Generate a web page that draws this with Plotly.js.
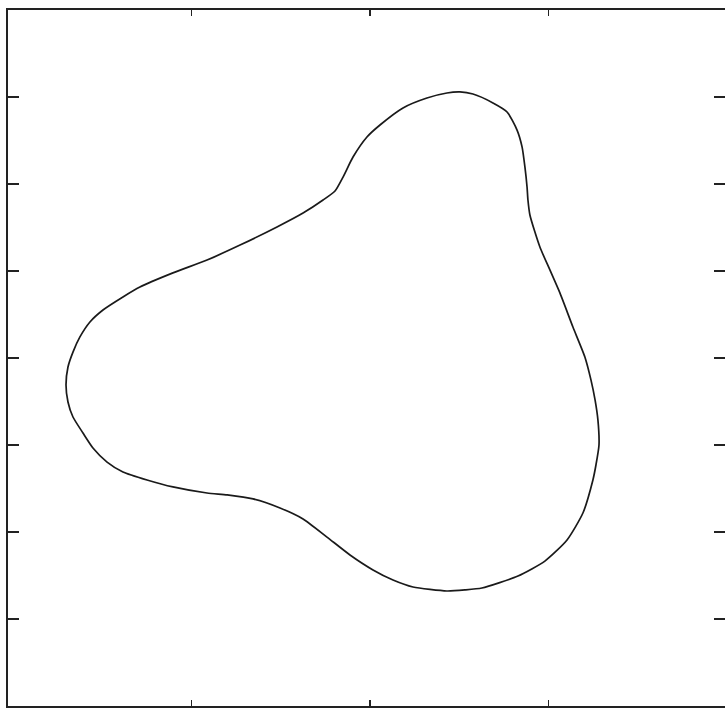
<!DOCTYPE html>
<html>
<head>
<meta charset="utf-8">
<script src="https://cdn.plot.ly/plotly-3.0.1.min.js"></script>
<style>html,body{margin:0;padding:0;background:#fff;}#chart{width:725px;height:708px;}</style>
</head>
<body>
<div id="chart"></div>
<script>
// Closed curve (data units)
const curveX = [0.504,0.577,0.689,0.768,0.824,0.852,0.868,0.880,0.885,0.896,0.952,1.008,1.064,1.137,1.204,1.238,1.261,1.277,1.283,1.266,1.249,1.193,1.104,0.980,0.829,0.627,0.532,0.431,0.241,0.129,0.017,-0.112,-0.241,-0.375,-0.504,-0.655,-0.800,-0.913,-1.104,-1.249,-1.384,-1.473,-1.552,-1.608,-1.664,-1.692,-1.703,-1.692,-1.664,-1.625,-1.569,-1.496,-1.384,-1.289,-1.104,-0.913,-0.728,-0.521,-0.375,-0.263,-0.196,-0.151,-0.095,-0.017,0.056,0.185,0.319,0.431,0.504];
const curveY = [1.529,1.517,1.466,1.414,1.310,1.213,1.098,0.983,0.908,0.822,0.638,0.506,0.374,0.178,0.006,-0.126,-0.241,-0.356,-0.500,-0.615,-0.701,-0.891,-1.046,-1.167,-1.253,-1.322,-1.333,-1.339,-1.316,-1.276,-1.218,-1.132,-1.029,-0.925,-0.862,-0.810,-0.787,-0.776,-0.741,-0.701,-0.655,-0.598,-0.517,-0.431,-0.339,-0.253,-0.155,-0.052,0.034,0.121,0.207,0.276,0.351,0.408,0.489,0.563,0.649,0.753,0.833,0.908,0.960,1.040,1.155,1.270,1.339,1.437,1.494,1.523,1.529];
const xTicks = [-1, 0, 1];
const yTicks = [-1.5, -1, -0.5, 0, 0.5, 1, 1.5];

const trace = {
  x: curveX, y: curveY, type: 'scatter', mode: 'lines',
  line: {color: '#1a1a1a', width: 1.7, shape: 'spline', smoothing: 0.6},
  hoverinfo: 'skip', showlegend: false
};

const layout = {
  width: 725, height: 708,
  margin: {l: 8, r: 0, t: 10, b: 2, pad: 0},
  paper_bgcolor: '#ffffff', plot_bgcolor: '#ffffff',
  showlegend: false,
  xaxis: {
    range: [-2.028, 1.989], tickvals: xTicks, showticklabels: false,
    ticks: 'inside', ticklen: 6, tickwidth: 1.3, tickcolor: '#222',
    showline: true, linecolor: '#222', linewidth: 1.6, mirror: 'ticks',
    showgrid: false, zeroline: false
  },
  yaxis: {
    range: [-2, 2], tickvals: yTicks, showticklabels: false,
    ticks: 'inside', ticklen: 11, tickwidth: 1.6, tickcolor: '#222',
    showline: true, linecolor: '#222', linewidth: 1.6, mirror: 'ticks',
    showgrid: false, zeroline: false
  }
};

Plotly.newPlot('chart', [trace], layout, {staticPlot: true, displayModeBar: false});
</script>
</body>
</html>
